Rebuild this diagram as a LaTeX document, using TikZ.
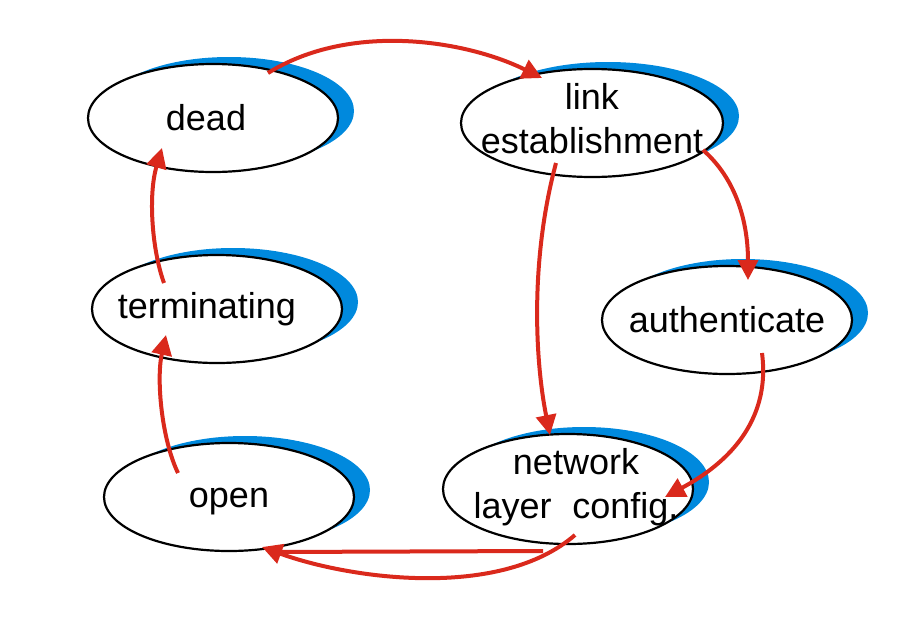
\documentclass[tikz,border=0pt]{standalone}
\usepackage{fontspec}
\setmainfont{Liberation Sans}
\usetikzlibrary{shapes.geometric,shadows,arrows.meta}
\definecolor{ppblue}{RGB}{0,137,221}
\definecolor{ppred}{RGB}{218,41,28}

\begin{document}
\begin{tikzpicture}[x=0.5pt,y=-0.5pt,
        state/.style={ellipse, draw, line width=1.1pt, fill=white, minimum width=125pt, minimum height=54pt, inner sep=0pt,
            general shadow={fill=ppblue, shadow xshift=8pt, shadow yshift=3.5pt}},
        txt/.style={align=center, font=\fontsize{18}{22}\selectfont},
        trans/.style={draw=ppred, line width=2pt, -{Triangle[length=10pt,width=10pt]}}]
        \useasboundingbox (0,0) rectangle (921,643);
        \node[state, label={[txt, xshift=-3.5pt]center:dead}] (dead) at (213,118) {};
        \node[state, minimum width=131pt, label={[txt, yshift=2pt]center:link\\establishment}] (link) at (592,123) {};
        \node[state, label={[txt, xshift=-5pt]center:terminating}] (term) at (217,309) {};
        \node[state, label={[txt]center:authenticate}] (auth) at (727,320) {};
        \node[state, label={[txt, yshift=-2.5pt]center:open}] (open) at (229,497) {};
        \node[state, minimum height=55pt, label={[txt, xshift=4pt, yshift=1pt]center:network\\layer\hspace{0.3em} config.}] (net) at (568,489) {};
        % Uebergaenge
        \draw[trans] ([shift={(55,-45)}]dead.center) .. controls +(82,-51) and +(-77,-38) .. ([shift={(-50,-45)}]link.center);
        \draw[trans] ([shift={(-36,40)}]link.center) .. controls +(-26,97) and +(-15,-75) .. ([shift={(-18,-54)}]net.center);
        \draw[trans] ([shift={(111,27)}]link.center) .. controls +(32,28) and +(0,-60) .. ([shift={(21,-40)}]auth.center);
        \draw[trans] ([shift={(35,33)}]auth.center) .. controls +(10,77) and +(50,-27) .. ([shift={(97,8)}]net.center);
        \draw[trans] ([shift={(7,46)}]net.center) .. controls +(-75,65) and +(88,32) .. ([shift={(33,50)}]open.center);
        \draw[trans, -] ([shift={(-25,62)}]net.center) -- ([shift={(43,55)}]open.center);
        \draw[trans] ([shift={(-51,-24)}]open.center) .. controls +(-16,-33) and +(-10,45) .. ([shift={(-51,26)}]term.center);
        \draw[trans] ([shift={(-53,-26)}]term.center) .. controls +(-12,-33) and +(-14,47) .. ([shift={(-51,30)}]dead.center);
    \end{tikzpicture}
\end{document}
